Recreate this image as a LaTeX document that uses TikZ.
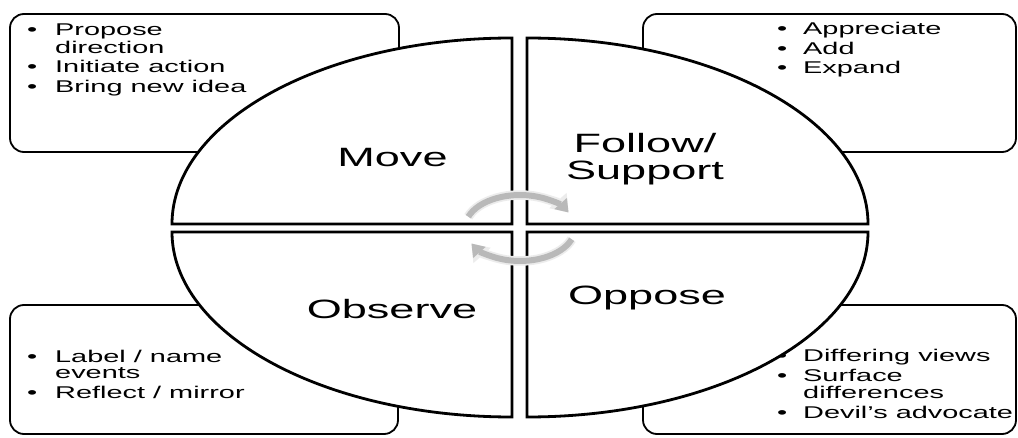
\documentclass[tikz,border=0pt]{standalone}
\usepackage{fontspec}
\setmainfont{Liberation Sans}
\newfontfamily\widesans[FakeStretch=1.7]{Liberation Sans}
\usetikzlibrary{arrows.meta}
\begin{document}
\begin{tikzpicture}[x=1pt,y=1pt,
  quad/.style={draw=black, line width=2.8pt, fill=white, line join=miter},
  infobox/.style={draw=black, line width=1.8pt, rounded corners=14pt},
  bigtext/.style={font=\widesans\fontsize{26.5}{26}\selectfont, inner sep=0pt},
  smalltext/.style={font=\widesans\fontsize{17}{17}\selectfont, inner sep=0pt, anchor=base west},
  glow/.style={line width=9.5pt, gray!15, -{Triangle[length=16pt,width=22pt]}},
  cyc/.style={line width=6pt, gray!55, -{Triangle[length=12pt,width=16pt]}}]
\useasboundingbox (0,0) rectangle (1018,437);

% info boxes
\draw[infobox] (10,285) rectangle (399,423);
\draw[infobox] (643,285) rectangle (1016,423);
\draw[infobox] (10,3) rectangle (398,132);
\draw[infobox] (643,3) rectangle (1016,132);

% list texts
\node[smalltext] (tltext) at (27,401) {\begin{tabular}[t]{@{}p{28pt}@{}l@{}}
  • & Propose\\ & direction\\[2pt]
  • & Initiate action\\[2pt]
  • & Bring new idea\end{tabular}};
\node[smalltext] (trtext) at (777,402) {\begin{tabular}[t]{@{}p{26pt}@{}l@{}}
  • & Appreciate\\[2pt]
  • & Add\\[2pt]
  • & Expand\end{tabular}};
\node[smalltext] (bltext) at (27,75) {\begin{tabular}[t]{@{}p{28pt}@{}l@{}}
  • & Label / name\\ & events\\[2pt]
  • & Reflect / mirror\end{tabular}};
\node[smalltext] (brtext) at (777,76) {\begin{tabular}[t]{@{}p{26pt}@{}l@{}}
  • & Differing views\\[3pt]
  • & Surface\\ & differences\\[2pt]
  • & Devil’s advocate\end{tabular}};

% quadrants
\draw[quad] (512,213) -- (172,213) arc[start angle=180, end angle=90, x radius=340, y radius=186] -- cycle;
\draw[quad] (527,213) -- (527,399) arc[start angle=90, end angle=0, x radius=341, y radius=186] -- cycle;
\draw[quad] (512,205) -- (172,205) arc[start angle=180, end angle=270, x radius=340, y radius=185] -- cycle;
\draw[quad] (527,205) -- (868,205) arc[start angle=0, end angle=-90, x radius=341, y radius=185] -- cycle;

% quadrant labels
\node[bigtext, anchor=base] (move) at (392.5,270) {Move};
\node[bigtext, anchor=base] (follow) at (645,284) {\begin{tabular}[t]{@{}c@{}}Follow/\\Support\end{tabular}};
\node[bigtext, anchor=base] (observe) at (392,119) {Observe};
\node[bigtext, anchor=base] (oppose) at (647,132) {Oppose};

% cycle arrows
\draw[glow] (520,209) ++(160:55 and 33) arc[start angle=160, end angle=28, x radius=55, y radius=33];
\draw[cyc] (520,209) ++(160:55 and 33) arc[start angle=160, end angle=28, x radius=55, y radius=33];
\draw[glow] (520,209) ++(-20:55 and 33) arc[start angle=-20, end angle=-152, x radius=55, y radius=33];
\draw[cyc] (520,209) ++(-20:55 and 33) arc[start angle=-20, end angle=-152, x radius=55, y radius=33];
\end{tikzpicture}
\end{document}
